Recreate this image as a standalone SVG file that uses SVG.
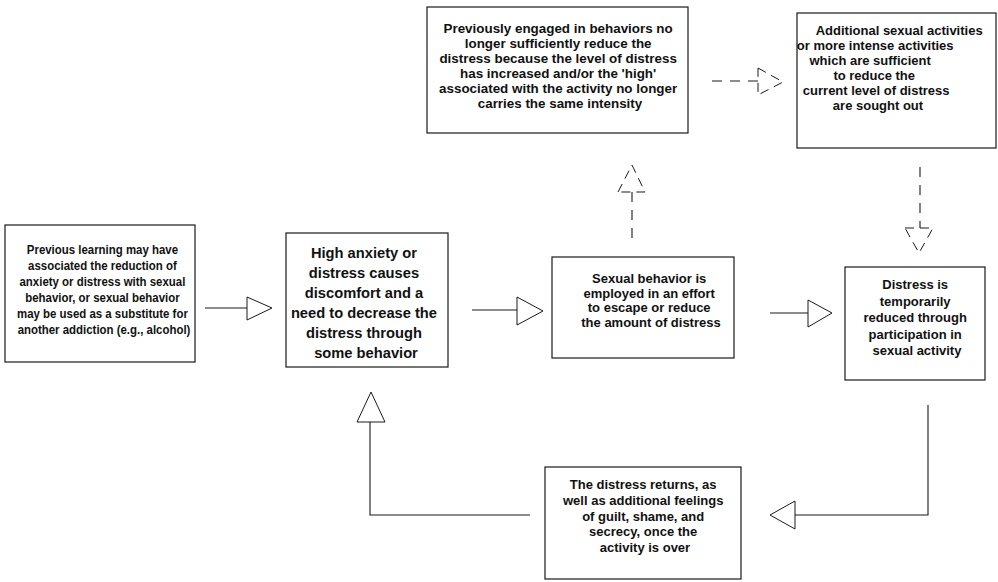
<svg xmlns="http://www.w3.org/2000/svg" width="998" height="582" viewBox="0 0 998 582">
<style>
.box{fill:#fff;stroke:#1a1a1a;stroke-width:1.2}
.t{font-family:"Liberation Sans",Arial,sans-serif;font-weight:bold;fill:#111;text-anchor:middle}
.ln{fill:none;stroke:#1a1a1a;stroke-width:1.1}
.tri{fill:#fff;stroke:#1a1a1a;stroke-width:1}
.dash{stroke-dasharray:10 8}
.tdash{stroke-dasharray:9 6}
</style>
<rect width="998" height="582" fill="#fff"/>
<g id="connectors">
  <line class="ln" x1="205" y1="308" x2="247" y2="308"/>
  <polygon class="tri" points="247,297 272,308 247,320"/>
  <line class="ln" x1="472" y1="310" x2="517" y2="310"/>
  <polygon class="tri" points="517,297 543,311 517,325"/>
  <line class="ln" x1="770" y1="313" x2="808" y2="313"/>
  <polygon class="tri" points="808,300 832,313 808,327"/>
  <line class="ln dash" x1="632" y1="238" x2="632" y2="192"/>
  <polygon class="tri tdash" points="618,192 632,165 645,192"/>
  <line class="ln dash" x1="712" y1="81" x2="758" y2="81"/>
  <polygon class="tri tdash" points="758,68 783,82 758,95"/>
  <line class="ln dash" x1="920" y1="167" x2="920" y2="228"/>
  <polygon class="tri tdash" points="905,228 933,228 919,253"/>
  <polyline class="ln" points="928,405 928,515 795,515"/>
  <polygon class="tri" points="795,501 770,515 795,529"/>
  <polyline class="ln" points="530,515 370,515 370,422"/>
  <polygon class="tri" points="357,422 371,392 385,422"/>
</g>
<g id="n1">
  <rect class="box" x="5" y="225" width="190" height="137"/>
  <g transform="translate(104,0) scale(0.88,1)">
    <text class="t" font-size="13">
      <tspan x="0" y="254.5">Previous learning may have</tspan>
      <tspan x="0" y="270.5">associated the reduction of</tspan>
      <tspan x="0" y="286.5">anxiety or distress with sexual</tspan>
      <tspan x="0" y="302.5">behavior, or sexual behavior</tspan>
      <tspan x="0" y="318.5">may be used as a substitute for</tspan>
      <tspan x="0" y="334.5">another addiction (e.g., alcohol)</tspan>
    </text>
  </g>
</g>
<g id="n2">
  <rect class="box" x="286" y="233" width="162" height="134"/>
  <text class="t" font-size="14.7">
    <tspan x="366" y="258">High anxiety or</tspan>
    <tspan x="366" y="278">distress causes</tspan>
    <tspan x="366" y="298">discomfort and a</tspan>
    <tspan x="366" y="318">need to decrease the</tspan>
    <tspan x="366" y="338">distress through</tspan>
    <tspan x="366" y="358">some behavior</tspan>
  </text>
</g>
<g id="n3">
  <rect class="box" x="552" y="257" width="182" height="101"/>
  <text class="t" font-size="13">
    <tspan x="651" y="283">Sexual behavior is</tspan>
    <tspan x="651" y="297.5">employed in an effort</tspan>
    <tspan x="651" y="312">to escape or reduce</tspan>
    <tspan x="651" y="326.5">the amount of distress</tspan>
  </text>
</g>
<g id="n4">
  <rect class="box" x="845" y="267" width="140" height="113"/>
  <text class="t" font-size="13">
    <tspan x="917" y="289">Distress is</tspan>
    <tspan x="917" y="306">temporarily</tspan>
    <tspan x="917" y="322">reduced through</tspan>
    <tspan x="917" y="339">participation in</tspan>
    <tspan x="917" y="355">sexual activity</tspan>
  </text>
</g>
<g id="n5">
  <rect class="box" x="427" y="7" width="261" height="126"/>
  <text class="t" font-size="13.4">
    <tspan x="560" y="32.5">Previously engaged in behaviors no</tspan>
    <tspan x="560" y="47.5">longer sufficiently reduce the</tspan>
    <tspan x="560" y="62.5">distress because the level of distress</tspan>
    <tspan x="560" y="77.5">has increased and/or the 'high'</tspan>
    <tspan x="560" y="92.5">associated with the activity no longer</tspan>
    <tspan x="560" y="107.5">carries the same intensity</tspan>
  </text>
</g>
<g id="n6">
  <rect class="box" x="797" y="13" width="199" height="135"/>
  <text class="t" font-size="13">
    <tspan x="901" y="34.5">Additional sexual activities</tspan>
    <tspan x="877" y="49.5">or more intense activities</tspan>
    <tspan x="872" y="64.5">which are sufficient</tspan>
    <tspan x="876" y="79.5">to reduce the</tspan>
    <tspan x="878" y="94.5">current level of distress</tspan>
    <tspan x="878" y="109.5">are sought out</tspan>
  </text>
</g>
<g id="n7">
  <rect class="box" x="545" y="467" width="196" height="112"/>
  <text class="t" font-size="13">
    <tspan x="645" y="489">The distress returns, as</tspan>
    <tspan x="645" y="505">well as additional feelings</tspan>
    <tspan x="645" y="521">of guilt, shame, and</tspan>
    <tspan x="645" y="536">secrecy, once the</tspan>
    <tspan x="645" y="552">activity is over</tspan>
  </text>
</g>
</svg>
